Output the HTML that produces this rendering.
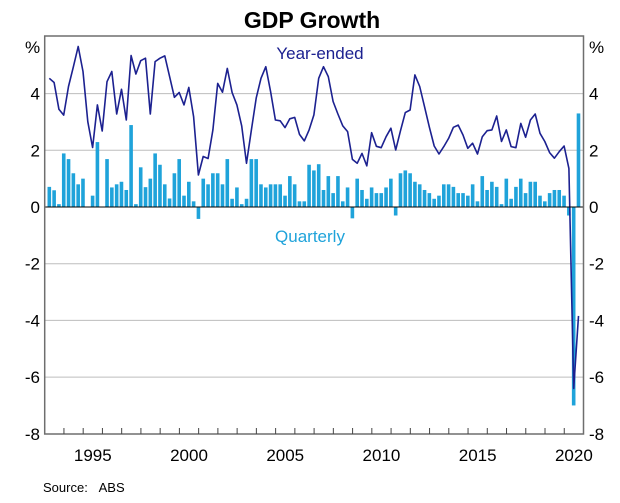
<!DOCTYPE html>
<html><head><meta charset="utf-8"><style>
body{margin:0;background:#fff;font-family:"Liberation Sans",Arial,sans-serif}
svg text{font-family:"Liberation Sans",Arial,sans-serif}
</style></head><body>
<svg id="chart" width="620" height="498" viewBox="0 0 620 498" xmlns="http://www.w3.org/2000/svg">
<rect width="620" height="498" fill="#fff"/>
<text x="312" y="28" text-anchor="middle" font-size="23" font-weight="bold" fill="#000">GDP Growth</text>
<text x="25" y="53" font-size="17" fill="#000">%</text>
<text x="589" y="53" font-size="17" fill="#000">%</text>
<g id="grid"></g><g id="bars"></g><g id="line"></g><g id="axes"></g>
<text x="320" y="59" text-anchor="middle" font-size="17" fill="#1c2190">Year-ended</text>
<text x="310" y="242" text-anchor="middle" font-size="17" fill="#1fa3da">Quarterly</text>
<text x="43" y="492" font-size="13" fill="#000">Source:&#160;&#160;&#160;ABS</text>
</svg>
<script>
const quarterly=[0.71,0.59,0.1,1.89,1.69,1.19,0.8,1.0,0,0.4,2.29,0,1.69,0.69,0.8,0.89,0.6,2.89,0.1,1.4,0.7,1.0,1.89,1.49,0.8,0.3,1.19,1.69,
0.4,0.89,0.2,-0.42,1.0,0.8,1.19,1.19,0.8,1.69,0.29,0.69,0.1,0.29,1.69,1.69,0.8,0.69,0.8,0.8,0.8,0.4,1.09,0.8,0.2,0.2,1.49,1.29,
1.51,0.6,1.09,0.49,1.09,0.2,0.69,-0.4,1.0,0.6,0.29,0.69,0.49,0.49,0.69,1.0,-0.3,1.19,1.29,1.19,0.89,0.8,0.6,0.49,0.29,0.4,0.8,0.8,
0.71,0.49,0.49,0.4,0.8,0.2,1.09,0.6,0.89,0.71,0.1,1.0,0.29,0.71,1.0,0.49,0.89,0.89,0.4,0.2,0.49,0.6,0.6,0.4,-0.3,-7.0,3.3];
const yearEnded=[4.54,4.39,3.45,3.24,4.25,4.95,5.66,4.78,3.01,2.1,3.6,2.68,4.42,4.78,3.28,4.15,3.07,5.34,4.69,5.16,5.25,3.28,5.13,5.25,5.33,4.6,3.87,4.04,
3.6,4.22,3.19,1.13,1.78,1.71,2.72,4.36,4.05,4.89,4.04,3.6,2.86,1.54,2.72,3.84,4.54,4.95,4.07,3.07,3.04,2.8,3.11,3.16,2.56,2.33,2.72,3.25,
4.54,4.95,4.6,3.72,3.28,2.86,2.66,1.68,1.54,1.89,1.45,2.62,2.14,2.09,2.48,2.78,2.01,2.69,3.33,3.42,4.66,4.25,3.54,2.81,2.15,1.87,2.13,2.42,
2.81,2.89,2.54,2.07,2.25,1.87,2.48,2.69,2.72,3.21,2.31,2.72,2.13,2.09,2.95,2.46,3.07,3.28,2.6,2.31,1.92,1.72,1.95,2.15,1.36,-6.4,-3.84];
const yTicks=[-8,-6,-4,-2,0,2,4];
const xYears=[1995,2000,2005,2010,2015,2020];
const startYear=1993, endYear=2021;

const L=44.7,R=583.5,T=36,B=434;
const yS=v=>207-v*28.35;
const xT=t=>L+(t-startYear)*(R-L)/(endYear-startYear);
const xQ=i=>xT(startYear+(i+0.5)/4)+2.2;
const NS='http://www.w3.org/2000/svg';
function mk(tag,attrs,parent,txt){const e=document.createElementNS(NS,tag);for(const k in attrs)e.setAttribute(k,attrs[k]);if(txt!==undefined)e.textContent=txt;document.getElementById(parent).appendChild(e);return e;}

yTicks.forEach(v=>{
  if(v!==0&&v!==-8){const g=mk('line',{x1:L,x2:R,y1:yS(v),y2:yS(v),stroke:'#bdbdbd','stroke-width':1},'grid');
  
  }
  const a=mk('text',{x:40,y:yS(v)+6,'text-anchor':'end','font-size':17,fill:'#000'},'axes',String(v));
  
  
  const b=mk('text',{x:589,y:yS(v)+6,'text-anchor':'start','font-size':17,fill:'#000'},'axes',String(v));
  
  
});

quarterly.forEach((v,i)=>{
  const y0=yS(0),y1=yS(v);
  const r=mk('rect',{x:xQ(i)-1.8,y:Math.min(y0,y1),width:3.6,height:Math.max(0.5,Math.abs(y1-y0)),fill:'#1fa3da'},'bars');
  
  
});
const pts=yearEnded.map((v,i)=>xQ(i).toFixed(1)+','+yS(v).toFixed(1)).join(' ');
const pl=mk('polyline',{points:pts,fill:'none',stroke:'#1c2190','stroke-width':1.6,'stroke-linejoin':'round'},'line');



const zl=mk('line',{x1:L,x2:R,y1:yS(0),y2:yS(0),stroke:'#000','stroke-width':1},'axes');


const fr=mk('rect',{x:L,y:T,width:R-L,height:B-T,fill:'none',stroke:'#6e6e6e','stroke-width':1.5},'axes');


for(let y=startYear+1;y<endYear;y++){
  const t=mk('line',{x1:xT(y),x2:xT(y),y1:B,y2:B-6,stroke:'#444'},'axes');
  
  
}
xYears.forEach(y=>{
  const t=mk('text',{x:xT(y+0.5),y:461,'text-anchor':'middle','font-size':17,fill:'#000'},'axes',String(y));
  
  
});
</script>
</body></html>
